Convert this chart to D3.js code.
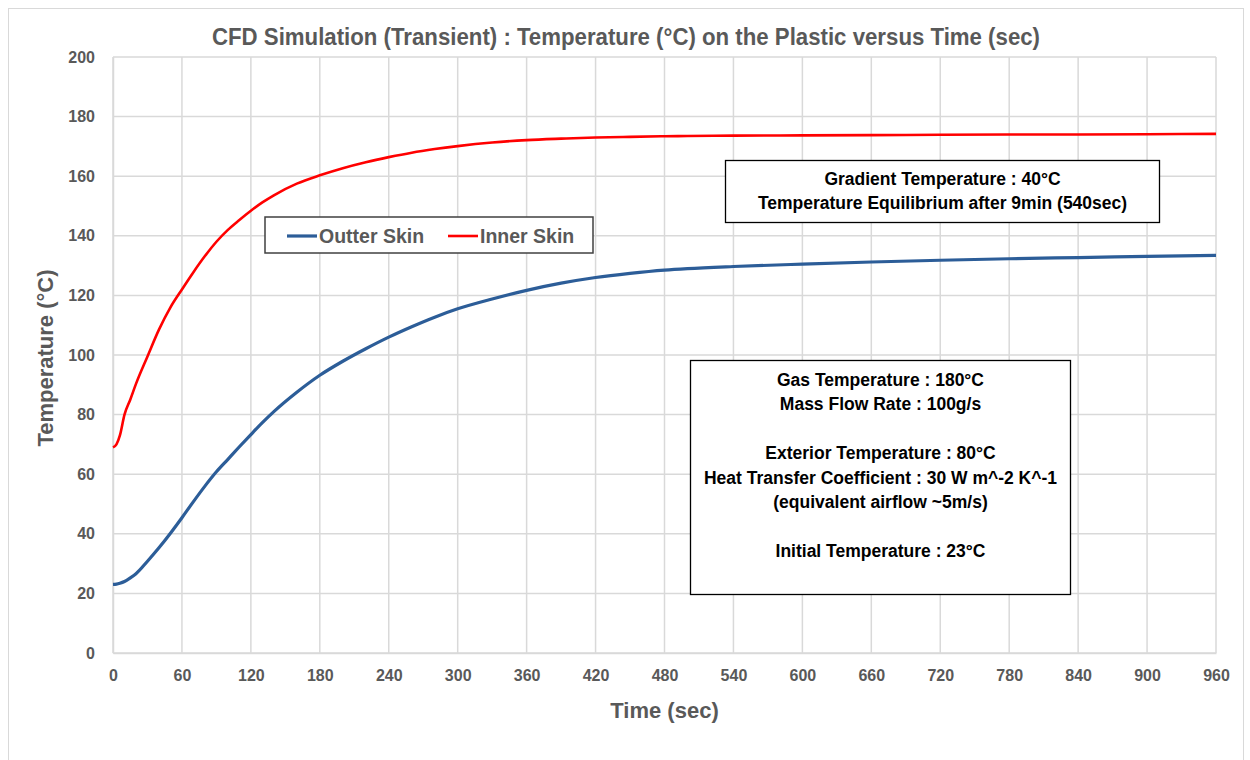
<!DOCTYPE html>
<html><head><meta charset="utf-8">
<script src="https://cdn.jsdelivr.net/npm/d3@7"></script>
<style>body{margin:0;background:#fff;} text{font-family:"Liberation Sans",Arial,sans-serif;}</style>
</head><body><svg id="c" width="1250" height="760"></svg>
<script>
const times = [0,3,6,10,15,20,30,40,50,60,70,80,90,100,110,120,130,140,160,180,200,220,240,260,280,300,330,360,390,420,450,480,500,540,600,660,720,780,840,900,960];
const innerSkin = [69,70,73,80,85,90.3,99.5,108.5,116,122,127.8,133.2,138,142,145.3,148.4,151.2,153.6,157.5,160.3,162.7,164.7,166.4,167.9,169.1,170.1,171.3,172.1,172.6,173,173.2,173.4,173.5,173.6,173.7,173.8,173.9,174,174,174.1,174.2];
const outerSkin = [23,23.1,23.4,24,25.2,26.6,30.8,35.3,40.2,45.4,50.8,56,60.8,65,69.2,73.3,77.3,81,87.5,93.2,97.9,102.1,106,109.5,112.7,115.5,118.8,121.7,124.1,126,127.4,128.5,129,129.7,130.5,131.2,131.8,132.3,132.7,133.1,133.4];
const xTicks = d3.range(0, 961, 60);
const yTicks = d3.range(0, 201, 20);
const seriesNames = ["Outter Skin", "Inner Skin"];
const seriesColors = ["#2c5d98", "#ff0000"];
const titleText = "CFD Simulation (Transient) : Temperature (°C) on the Plastic versus Time (sec)";
const xTitle = "Time (sec)";
const yTitle = "Temperature (°C)";
const box1Lines = ["Gradient Temperature : 40°C", "Temperature Equilibrium after 9min (540sec)"];
const box2Lines = ["Gas Temperature : 180°C", "Mass Flow Rate : 100g/s", "", "Exterior Temperature : 80°C", "Heat Transfer Coefficient : 30 W m^-2 K^-1", "(equivalent airflow ~5m/s)", "", "Initial Temperature : 23°C"];

const svg = d3.select("#c");
const L = 113, R = 1216, T = 57, B = 653;
const x = d3.scaleLinear().domain([0, 960]).range([L, R]);
const y = d3.scaleLinear().domain([0, 200]).range([B, T]);

// chart frame
svg.append("rect").attr("x", 8.5).attr("y", 8.5).attr("width", 1235).attr("height", 760).attr("fill", "#fff").attr("stroke", "#d9d9d9").attr("stroke-width", 1);

// gridlines
const grid = svg.append("g");
grid.selectAll("line.h").data(yTicks).join("line").attr("x1", L).attr("x2", R).attr("y1", d => y(d)).attr("y2", d => y(d)).attr("stroke", "#d9d9d9").attr("stroke-width", 1.5);
grid.selectAll("line.v").data(xTicks).join("line").attr("y1", T).attr("y2", B).attr("x1", d => x(d)).attr("x2", d => x(d)).attr("stroke", "#d9d9d9").attr("stroke-width", 1.5);

// axes
const xa = svg.append("g").attr("transform", `translate(0,${B})`).call(d3.axisBottom(x).tickValues(xTicks).tickSize(0).tickPadding(17));
const ya = svg.append("g").attr("transform", `translate(${L},0)`).call(d3.axisLeft(y).tickValues(yTicks).tickSize(0).tickPadding(18));
[xa, ya].forEach(a => { a.select(".domain").attr("stroke", "#d9d9d9").attr("stroke-width", 1.5); a.selectAll("text").attr("fill", "#595959").attr("font-size", 16).attr("font-weight", "bold").style("font-family", "'Liberation Sans',Arial,sans-serif"); });

// lines
const line = d3.line().x((d, i) => x(times[i])).y(d => y(d)).curve(d3.curveMonotoneX);
svg.append("path").datum(outerSkin).attr("d", line).attr("fill", "none").attr("stroke", seriesColors[0]).attr("stroke-width", 3.2);
svg.append("path").datum(innerSkin).attr("d", line).attr("fill", "none").attr("stroke", seriesColors[1]).attr("stroke-width", 2.6);

// title
svg.append("text").attr("x", 626).attr("y", 45).attr("text-anchor", "middle").attr("fill", "#595959").attr("font-size", 24).attr("font-weight", "bold").attr("textLength", 828).attr("lengthAdjust", "spacingAndGlyphs").text(titleText);
svg.append("text").attr("x", (L + R) / 2).attr("y", 718).attr("text-anchor", "middle").attr("fill", "#595959").attr("font-size", 22).attr("font-weight", "bold").text(xTitle);
svg.append("text").attr("transform", `translate(53,${(T + B) / 2 + 3}) rotate(-90)`).attr("text-anchor", "middle").attr("fill", "#595959").attr("font-size", 22).attr("font-weight", "bold").text(yTitle);

// legend
const lg = svg.append("g");
lg.append("rect").attr("x", 265).attr("y", 217).attr("width", 328).attr("height", 36).attr("fill", "#fff").attr("stroke", "#404040").attr("stroke-width", 1.5);
const legX = [287, 448];
seriesNames.forEach((n, i) => {
  lg.append("line").attr("x1", legX[i]).attr("x2", legX[i] + 30).attr("y1", 236).attr("y2", 236).attr("stroke", seriesColors[i]).attr("stroke-width", i === 0 ? 3.2 : 2.6);
  lg.append("text").attr("x", legX[i] + 32).attr("y", 243).attr("fill", "#595959").attr("font-size", 19.5).attr("font-weight", "bold").text(n);
});

// annotation boxes
function box(x0, y0, w, h, lines, firstY, step) {
  const g = svg.append("g");
  g.append("rect").attr("x", x0).attr("y", y0).attr("width", w).attr("height", h).attr("fill", "#fff").attr("stroke", "#000").attr("stroke-width", 1.3);
  lines.forEach((t, i) => {
    if (!t) return;
    g.append("text").attr("x", x0 + w / 2).attr("y", firstY + i * step).attr("text-anchor", "middle").attr("fill", "#000").attr("font-size", 17.5).attr("font-weight", "bold").text(t);
  });
}
box(725.5, 160.5, 434, 62, box1Lines, 184.5, 24.5);
box(690.5, 360.5, 380, 234, box2Lines, 385.5, 24.5);
</script></body></html>
